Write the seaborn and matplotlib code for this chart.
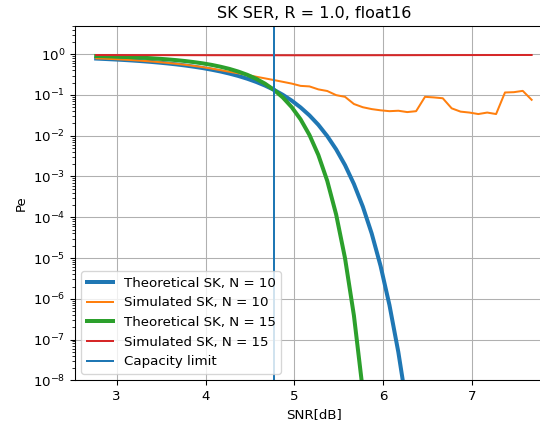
import matplotlib
matplotlib.use('Agg')
import matplotlib.pyplot as plt
from matplotlib.ticker import LogLocator, NullFormatter
import seaborn as sns

# SNR grid in dB
snr_db = [2.77, 2.87, 2.97, 3.07, 3.17, 3.27, 3.37, 3.47, 3.57, 3.67,
          3.77, 3.87, 3.97, 4.07, 4.17, 4.27, 4.37, 4.47, 4.57, 4.67,
          4.77, 4.87, 4.97, 5.07, 5.17, 5.27, 5.37, 5.47, 5.57, 5.67,
          5.77, 5.87, 5.97, 6.07, 6.17, 6.27, 6.37, 6.47, 6.57, 6.67,
          6.77, 6.87, 6.97, 7.07, 7.17, 7.27, 7.37, 7.47, 7.57, 7.67]

# theoretical SK error, N = 10 (until it leaves the plot)
theory_n10 = [0.781, 0.763, 0.744, 0.724, 0.702, 0.678, 0.652, 0.624, 0.594, 0.563,
              0.529, 0.493, 0.456, 0.416, 0.376, 0.334, 0.292, 0.250, 0.209, 0.170,
              0.1335, 0.1008, 0.0727, 0.0494, 0.0315, 0.0185, 0.0098, 0.00463, 0.0019, 6.55e-4,
              1.83e-4, 4.0e-5, 6.4e-6, 7.0e-7, 4.9e-8, 2.0e-9]

# theoretical SK error, N = 15
theory_n15 = [0.902, 0.890, 0.876, 0.861, 0.843, 0.823, 0.801, 0.775, 0.747, 0.715,
              0.679, 0.639, 0.595, 0.546, 0.492, 0.435, 0.374, 0.312, 0.249, 0.189,
              0.1336, 0.0867, 0.0503, 0.0252, 0.0104, 0.00336, 7.8e-4, 1.17e-4, 9.9e-6, 3.9e-7,
              5.6e-9]

# simulated, N = 10
sim_n10 = [0.79, 0.775, 0.757, 0.737, 0.716, 0.693, 0.668, 0.641, 0.612, 0.582,
           0.55, 0.515, 0.48, 0.443, 0.405, 0.37, 0.34, 0.31, 0.28, 0.255,
           0.232, 0.21, 0.19, 0.167, 0.162, 0.137, 0.125, 0.099, 0.09, 0.06,
           0.05, 0.045, 0.042, 0.040, 0.041, 0.038, 0.040, 0.090, 0.087, 0.083,
           0.047, 0.039, 0.037, 0.034, 0.037, 0.034, 0.115, 0.117, 0.126, 0.076]

# simulated, N = 15
sim_n15 = [0.955, 0.955, 0.953, 0.952, 0.952, 0.950, 0.950, 0.949, 0.948, 0.948,
           0.947, 0.946, 0.946, 0.945, 0.945, 0.944, 0.944, 0.943, 0.943, 0.942,
           0.942, 0.942, 0.941, 0.941, 0.941, 0.941, 0.942, 0.942, 0.943, 0.943,
           0.944, 0.944, 0.945, 0.946, 0.946, 0.947, 0.948, 0.949, 0.950, 0.950,
           0.951, 0.952, 0.952, 0.953, 0.954, 0.954, 0.955, 0.955, 0.956, 0.956]

capacity_db = 4.771
x_ticks = [3, 4, 5, 6, 7]

fig = plt.figure(figsize=(5.625, 4.46875), dpi=96)
# axes run slightly past the right edge, like the original crop
ax = fig.add_axes([0.138, 0.1135, 0.887, 0.8266])

sns.lineplot(x=snr_db[:len(theory_n10)], y=theory_n10, ax=ax, color='C0', linewidth=3,
             label='Theoretical SK, N = 10')
sns.lineplot(x=snr_db, y=sim_n10, ax=ax, color='C1', linewidth=1.5,
             label='Simulated SK, N = 10')
sns.lineplot(x=snr_db[:len(theory_n15)], y=theory_n15, ax=ax, color='C2', linewidth=3,
             label='Theoretical SK, N = 15')
sns.lineplot(x=snr_db, y=sim_n15, ax=ax, color='C3', linewidth=1.5,
             label='Simulated SK, N = 15')
ax.axvline(capacity_db, color='C0', linewidth=1.5, label='Capacity limit')

ax.set_yscale('log')
ax.set_xlim(2.526, 7.916)
ax.set_ylim(1e-8, 5)
ax.set_xticks(x_ticks)
ax.yaxis.set_major_locator(LogLocator(base=10, numticks=20))
ax.yaxis.set_minor_locator(LogLocator(base=10, subs=[2, 3, 4, 5, 6, 7, 8, 9], numticks=100))
ax.yaxis.set_minor_formatter(NullFormatter())
ax.grid(True, which='major')
ax.set_title('SK SER, R = 1.0, float16', fontsize=12)
ax.set_xlabel('SNR[dB]')
ax.set_ylabel('Pe')
ax.legend(loc='lower left')

fig.savefig('out.png', dpi=96)
